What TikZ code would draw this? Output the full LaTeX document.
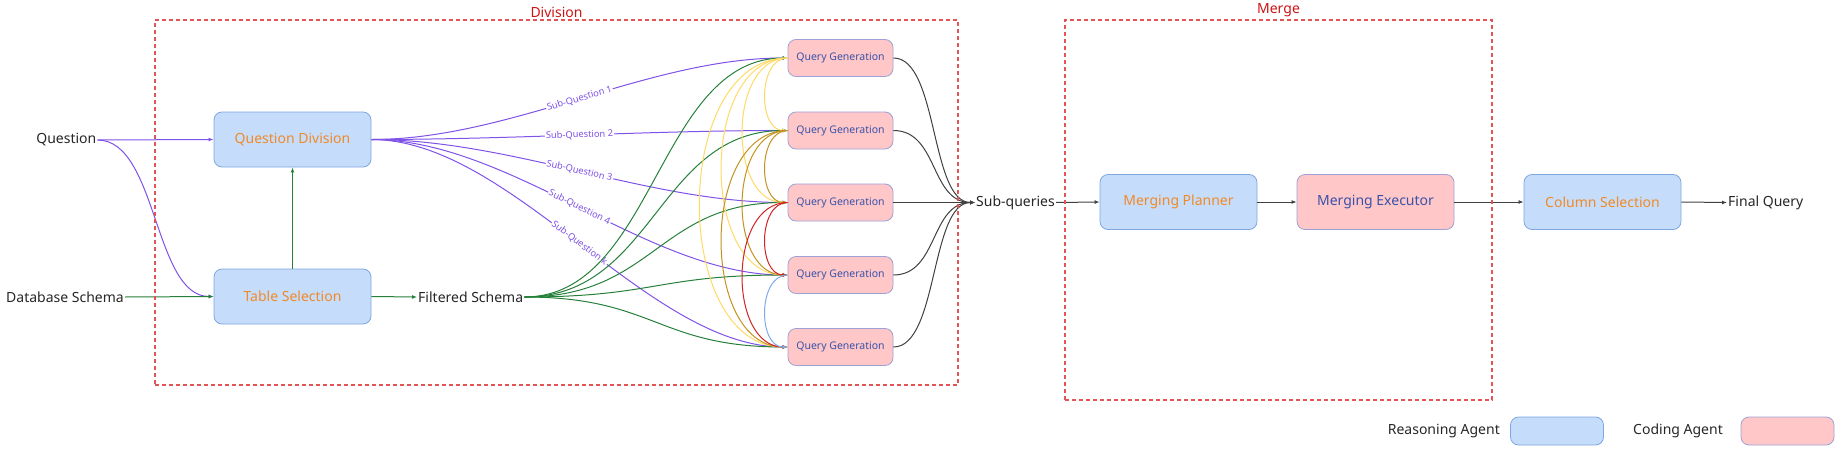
\documentclass[tikz,border=0pt]{standalone}
\usepackage{fontspec}
\setmainfont{Noto Sans}
\usetikzlibrary{arrows.meta,fit,calc}

\definecolor{qpurple}{RGB}{127,82,232}
\definecolor{qgreen}{RGB}{38,128,58}
\definecolor{qyellow}{RGB}{255,217,102}
\definecolor{qgold}{RGB}{196,146,30}
\definecolor{qred}{RGB}{208,36,36}
\definecolor{qblue}{RGB}{126,170,236}
\definecolor{qgray}{RGB}{64,64,64}
\definecolor{boxblue}{RGB}{198,220,251}
\definecolor{boxblueline}{RGB}{126,166,224}
\definecolor{boxpink}{RGB}{255,199,199}
\definecolor{boxpinkline}{RGB}{158,160,214}
\definecolor{txtorange}{RGB}{240,138,40}
\definecolor{txtnavy}{RGB}{58,82,170}
\definecolor{dashred}{RGB}{228,84,84}
\definecolor{labelred}{RGB}{204,20,20}

\begin{document}
\begin{tikzpicture}[x=1pt,y=-1pt,
    txt/.style={font=\fontsize{14}{16}\selectfont, inner sep=1pt, text=black!85},
    reasoning box/.style={draw=boxblueline, fill=boxblue, line width=0.8pt,
      rounded corners=8pt, minimum width=157pt, minimum height=55pt,
      font=\fontsize{14}{16}\selectfont, text=txtorange},
    coding box/.style={draw=boxpinkline, fill=boxpink, line width=0.8pt,
      rounded corners=8pt, minimum width=157pt, minimum height=55pt,
      font=\fontsize{14}{16}\selectfont, text=txtnavy},
    query box/.style={coding box, minimum width=105pt, minimum height=37pt,
      font=\fontsize{10.5}{12}\selectfont},
    sub label/.style={font=\fontsize{9.3}{10}\selectfont, text=qpurple,
      fill=white, inner sep=1pt, sloped},
    flow line/.style={line width=1pt, -{Latex[length=5pt,width=4pt]}},
    surround dashed/.style={draw=dashred, line width=1.2pt,
      dash pattern=on 4pt off 3pt, inner sep=0pt, rectangle}
  ]
  \useasboundingbox (0,0) rectangle (1838,452);

  % inputs and division agents
  \node (question) [txt, anchor=east] at (97.5,140) {Question};
  \node (dbschema) [txt, anchor=east] at (125,297) {Database Schema};
  \node (qdiv) [reasoning box] at (292.5,139.5) {Question Division};
  \node (tabsel) [reasoning box] at (292.5,296.5) {Table Selection};
  \node (filtered) [txt, anchor=west] at (417,297) {Filtered Schema};

  % query generation column
  \node (qg1) [query box] at (840.5,58) {Query Generation};
  \node (qg2) [query box] at (840.5,130.5) {Query Generation};
  \node (qg3) [query box] at (840.5,202.5) {Query Generation};
  \node (qg4) [query box] at (840.5,275) {Query Generation};
  \node (qg5) [query box] at (840.5,347) {Query Generation};

  % merge chain
  \node (subq) [txt, anchor=west] at (975,202.5) {Sub-queries};
  \node (mplan) [reasoning box] at (1178.5,202) {Merging Planner};
  \node (mexec) [coding box] at (1375.5,202) {Merging Executor};
  \node (colsel) [reasoning box] at (1602.5,202) {Column Selection};
  \node (final) [txt, anchor=west] at (1727,202.5) {Final Query};

  % legend
  \node (reason key) [reasoning box, minimum width=93pt, minimum height=28pt] at (1557,431) {};
  \node (reason txt) [txt, anchor=east] at (1501,431) {Reasoning Agent};
  \node (coding key) [coding box, minimum width=93pt, minimum height=28pt] at (1787.5,431) {};
  \node (coding txt) [txt, anchor=east] at (1724,431) {Coding Agent};

  {
      \draw[flow line, qpurple] (question.east) -- (qdiv.west);
      \draw[flow line, qpurple] (question.east) .. controls +(60,0) and +(-60,0) .. (tabsel.west);
      \draw[flow line, qgreen] (dbschema.east) -- (tabsel.west);
      \draw[flow line, qgreen] (tabsel.north) -- (qdiv.south);
      \draw[flow line, qgreen] (tabsel.east) -- (filtered.west);

      \draw[flow line, qpurple] (qdiv.east) .. controls +(140,0) and +(-140,0) .. node[sub label] {Sub-Question 1} (qg1.west);
      \draw[flow line, qpurple] (qdiv.east) .. controls +(140,0) and +(-140,0) .. node[sub label] {Sub-Question 2} (qg2.west);
      \draw[flow line, qpurple] (qdiv.east) .. controls +(140,0) and +(-140,0) .. node[sub label] {Sub-Question 3} (qg3.west);
      \draw[flow line, qpurple] (qdiv.east) .. controls +(140,0) and +(-140,0) .. node[sub label] {Sub-Question 4} (qg4.west);
      \draw[flow line, qpurple] (qdiv.east) .. controls +(140,0) and +(-140,0) .. node[sub label] {Sub-Question k} (qg5.west);

      \draw[flow line, qgreen] (filtered.east) .. controls +(130,0) and +(-130,0) .. (qg1.west);
      \draw[flow line, qgreen] (filtered.east) .. controls +(130,0) and +(-130,0) .. (qg2.west);
      \draw[flow line, qgreen] (filtered.east) .. controls +(130,0) and +(-130,0) .. (qg3.west);
      \draw[flow line, qgreen] (filtered.east) .. controls +(130,0) and +(-130,0) .. (qg4.west);
      \draw[flow line, qgreen] (filtered.east) .. controls +(130,0) and +(-130,0) .. (qg5.west);

      \draw[flow line, qyellow] (qg1.west) .. controls +(-30,0) and +(-30,0) .. (qg2.west);
      \draw[flow line, qyellow] (qg1.west) .. controls +(-60,0) and +(-60,0) .. (qg3.west);
      \draw[flow line, qyellow] (qg1.west) .. controls +(-88,0) and +(-88,0) .. (qg4.west);
      \draw[flow line, qyellow] (qg1.west) .. controls +(-117,0) and +(-117,0) .. (qg5.west);
      \draw[flow line, qgold] (qg2.west) .. controls +(-30,0) and +(-30,0) .. (qg3.west);
      \draw[flow line, qgold] (qg2.west) .. controls +(-60,0) and +(-60,0) .. (qg4.west);
      \draw[flow line, qgold] (qg2.west) .. controls +(-88,0) and +(-88,0) .. (qg5.west);
      \draw[flow line, qred] (qg3.west) .. controls +(-30,0) and +(-30,0) .. (qg4.west);
      \draw[flow line, qred] (qg3.west) .. controls +(-60,0) and +(-60,0) .. (qg5.west);
      \draw[flow line, qblue] (qg4.west) .. controls +(-30,0) and +(-30,0) .. (qg5.west);

      \draw[flow line, qgray] (qg1.east) .. controls +(45,0) and +(-45,0) .. (subq.west);
      \draw[flow line, qgray] (qg2.east) .. controls +(45,0) and +(-45,0) .. (subq.west);
      \draw[flow line, qgray] (qg3.east) -- (subq.west);
      \draw[flow line, qgray] (qg4.east) .. controls +(45,0) and +(-45,0) .. (subq.west);
      \draw[flow line, qgray] (qg5.east) .. controls +(45,0) and +(-45,0) .. (subq.west);

      \draw[flow line, qgray] (subq.east) -- (mplan.west);
      \draw[flow line, qgray] (mplan.east) -- (mexec.west);
      \draw[flow line, qgray] (mexec.east) -- (colsel.west);
      \draw[flow line, qgray] (colsel.east) -- (final.west);
  };

  \coordinate (div-nw) at (155,20);
  \coordinate (div-se) at (958,385);
  \coordinate (mrg-nw) at (1065,20);
  \coordinate (mrg-se) at (1492,400);

  \node (division box) [surround dashed, fit = (div-nw) (div-se)] {};
  \node (merge box) [surround dashed, fit = (mrg-nw) (mrg-se)] {};
  \node at (division box.north) [above, inner sep=2pt, text=labelred, font=\fontsize{14}{16}\selectfont] {Division};
  \node at (merge box.north) [above, inner sep=2pt, text=labelred, font=\fontsize{14}{16}\selectfont] {Merge};
\end{tikzpicture}
\end{document}
